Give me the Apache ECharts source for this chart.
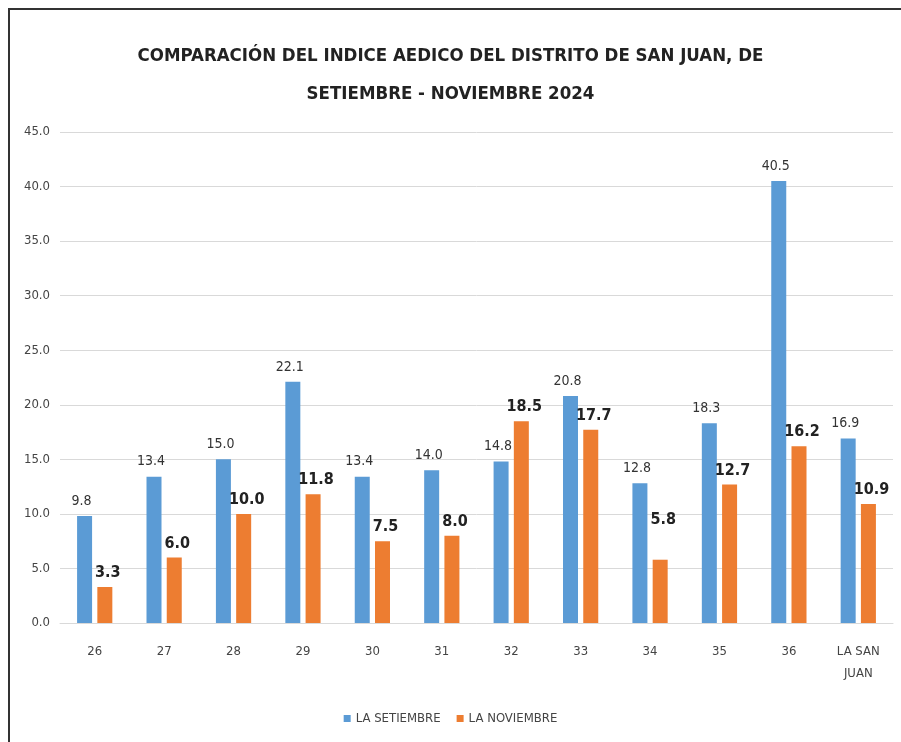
<!DOCTYPE html>
<html>
<head>
<meta charset="utf-8">
<script src="https://cdn.jsdelivr.net/npm/echarts@6.0.0/dist/echarts.min.js"></script>
<style>
  html, body { margin: 0; padding: 0; background: #fff; }
  #chart { width: 901px; height: 742px; }
</style>
</head>
<body>
<div id="chart"></div>
<script>
var categories = ['26', '27', '28', '29', '30', '31', '32', '33', '34', '35', '36', 'LA SAN\nJUAN'];
var setiembre = [9.8, 13.4, 15.0, 22.1, 13.4, 14.0, 14.8, 20.8, 12.8, 18.3, 40.5, 16.9];
var noviembre = [3.3, 6.0, 10.0, 11.8, 7.5, 8.0, 18.5, 17.7, 5.8, 12.7, 16.2, 10.9];
var yTicks = [0, 5, 10, 15, 20, 25, 30, 35, 40, 45];

var font = "'Liberation Sans Narrow', 'DejaVu Sans Condensed', 'Open Sans', sans-serif";

var chart = echarts.init(document.getElementById('chart'));

var option = {
    animation: false,
    textStyle: { fontFamily: font },
    graphic: [{
        type: 'rect',
        shape: { x: 9, y: 9, width: 920, height: 760 },
        style: { fill: 'none', stroke: '#333', lineWidth: 2 }
    }],
    title: {
        text: 'COMPARACIÓN DEL INDICE AEDICO DEL DISTRITO DE SAN JUAN, DE\nSETIEMBRE - NOVIEMBRE 2024',
        left: 'center',
        top: 32,
        textStyle: {
            fontFamily: font,
            fontSize: 18.5,
            fontWeight: 'bold',
            color: '#222',
            lineHeight: 38
        }
    },
    legend: {
        bottom: 12,
        left: 'center',
        itemWidth: 7,
        itemHeight: 7,
        itemGap: 16,
        icon: 'rect',
        textStyle: { fontFamily: font, fontSize: 13, color: '#444' }
    },
    grid: {
        left: 60,
        right: 8,
        top: 132,
        bottom: 119,
        containLabel: false
    },
    xAxis: {
        type: 'category',
        data: categories,
        axisLine: { lineStyle: { color: '#d9d9d9' } },
        axisTick: { show: false },
        axisLabel: {
            color: '#444',
            fontSize: 13,
            margin: 18,
            lineHeight: 22,
            interval: 0
        }
    },
    yAxis: {
        type: 'value',
        min: yTicks[0],
        max: yTicks[yTicks.length - 1],
        interval: 5,
        axisLine: { show: false },
        axisTick: { show: false },
        splitLine: { lineStyle: { color: '#d9d9d9' } },
        axisLabel: {
            color: '#444',
            fontSize: 13,
            margin: 10,
            formatter: function (v) { return v.toFixed(1); }
        }
    },
    series: [
        {
            name: 'LA SETIEMBRE',
            type: 'bar',
            data: setiembre,
            barWidth: 15,
            barGap: '35%',
            itemStyle: { color: '#5B9BD5' },
            label: {
                show: true,
                position: 'top',
                distance: 8,
                fontSize: 14,
                color: '#333',
                offset: [-3, 0],
                formatter: function (p) { return p.value.toFixed(1); }
            }
        },
        {
            name: 'LA NOVIEMBRE',
            type: 'bar',
            data: noviembre.map(function (v, i) {
                if (i === 8) {
                    return { value: v, label: { offset: [3, -26] } };
                }
                return v;
            }),
            barWidth: 15,
            itemStyle: { color: '#ED7D31' },
            label: {
                show: true,
                position: 'top',
                distance: 6,
                fontSize: 16,
                fontWeight: 'bold',
                color: '#222',
                offset: [3, 0],
                formatter: function (p) { return p.value.toFixed(1); }
            }
        }
    ]
};

chart.setOption(option);
</script>
</body>
</html>
